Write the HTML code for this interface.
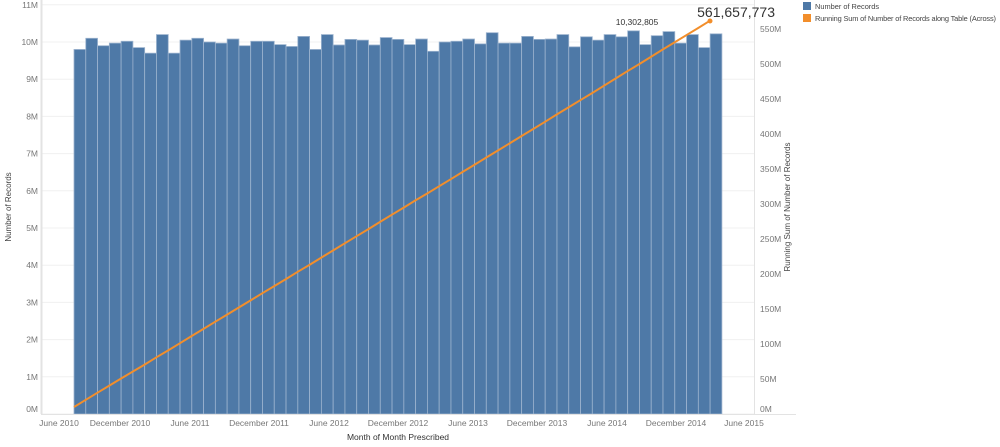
<!DOCTYPE html>
<html><head><meta charset="utf-8"><style>
body{margin:0;background:#fff;}
svg{display:block;font-family:"Liberation Sans",sans-serif;}
</style></head><body>
<svg id="c" width="1000" height="447" xmlns="http://www.w3.org/2000/svg">
<g id="grid" stroke="#f0f0f0" stroke-width="1"></g>
<g id="bars"></g>
<line x1="41.5" y1="0" x2="41.5" y2="414" stroke="#e3e3e3" stroke-width="2"/>
<line x1="754.5" y1="0" x2="754.5" y2="414" stroke="#e3e3e3" stroke-width="1"/>
<line x1="41" y1="414.5" x2="796" y2="414.5" stroke="#e3e3e3" stroke-width="1"/>
<polyline id="line" fill="none" stroke="#f28e2b" stroke-width="2"/>
<circle cx="710" cy="21" r="2.5" fill="#f28e2b"/>
<g id="labels" font-size="8.5" fill="#777"></g>
<text x="637" y="25" font-size="8.5" fill="#333" text-anchor="middle">10,302,805</text>
<text x="775" y="17" font-size="14" fill="#333" text-anchor="end">561,657,773</text>
<text transform="translate(11,207) rotate(-90)" font-size="8" fill="#444" text-anchor="middle">Number of Records</text>
<text transform="translate(790,207) rotate(-90)" font-size="8" fill="#444" text-anchor="middle">Running Sum of Number of Records</text>
<text x="398" y="440" font-size="8.5" fill="#333" text-anchor="middle">Month of Month Prescribed</text>
<rect x="803" y="2" width="8" height="8" fill="#4e79a7"/>
<text x="815" y="9" font-size="7.4" fill="#444">Number of Records</text>
<rect x="803" y="14" width="8" height="8" fill="#f28e2b"/>
<text x="815" y="21" font-size="7.4" fill="#444" textLength="181">Running Sum of Number of Records along Table (Across)</text>
</svg>
<script>
const v=[9.8,10.1,9.9,9.97,10.02,9.85,9.7,10.2,9.7,10.05,10.1,10.0,9.97,10.08,9.9,10.02,10.02,9.93,9.88,10.15,9.8,10.2,9.92,10.07,10.05,9.92,10.12,10.07,9.93,10.08,9.75,10.0,10.02,10.08,9.95,10.25,9.97,9.97,10.15,10.07,10.08,10.2,9.87,10.14,10.05,10.2,10.14,10.30,9.93,10.17,10.28,9.97,10.2,9.85,10.22];
const NS="http://www.w3.org/2000/svg";
function el(p,t,a,txt){const e=document.createElementNS(NS,t);for(const k in a)e.setAttribute(k,a[k]);if(txt!==undefined)e.textContent=txt;document.getElementById(p).appendChild(e);}
const y0=414,s=37.2;
for(let i=0;i<=11;i++){const y=y0-i*s;el('grid','line',{x1:42,x2:754,y1:y,y2:y});el('labels','text',{x:38,y:(i==0?y-2:y+3),'text-anchor':'end'},i+'M');}
for(let i=0;i<=11;i++){const y=y0-i*50*0.7;el('labels','text',{x:760,y:(i==0?y-2:y+3)},(i*50)+'M');}
const w=11.78;let sum=0,pts=[];const tot=v.reduce((a,b)=>a+b);
v.forEach((d,i)=>{const x=74+i*w;el('bars','rect',{x:x,y:y0-d*s,width:w,height:d*s,fill:'#4e79a7',stroke:'#9db4cf','stroke-width':0.8});sum+=d;pts.push((74+i*w*0.9995).toFixed(1)+','+(y0-sum*0.7*(561.66/tot)).toFixed(1));});
document.getElementById('line').setAttribute('points',pts.join(' '));
const xl=[["June 2010",59],["December 2010",120],["June 2011",190],["December 2011",259],["June 2012",329],["December 2012",398],["June 2013",468],["December 2013",537],["June 2014",607],["December 2014",676],["June 2015",744]];
xl.forEach(([t,x])=>el('labels','text',{x:x,y:426,'text-anchor':'middle'},t));
</script>
</body></html>
